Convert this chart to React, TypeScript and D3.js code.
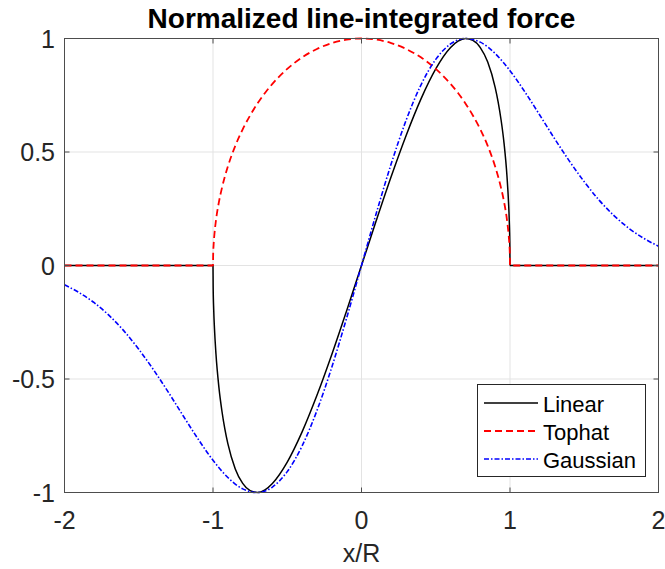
import React from 'react';
import * as d3 from 'd3';

// sample positions for the Linear / Tophat curves (dense near the edges at x = ±1)
const kernelX = [
  -2, -1.5, -1, -0.999, -0.995, -0.99, -0.98, -0.96, -0.94, -0.92, -0.9, -0.85, -0.8, -0.75, -0.7,
  -0.65, -0.6, -0.5, -0.4, -0.3, -0.2, -0.1, 0, 0.1, 0.2, 0.3, 0.4, 0.5, 0.6, 0.65, 0.7, 0.75,
  0.8, 0.85, 0.9, 0.92, 0.94, 0.96, 0.98, 0.99, 0.995, 0.999, 1, 1.5, 2,
];

const linearY = [
  0, 0, 0, -0.089, -0.199, -0.279, -0.39, -0.538, -0.641, -0.721, -0.785, -0.896, -0.96, -0.992, -1.0,
  -0.988, -0.96, -0.866, -0.733, -0.572, -0.392, -0.199, 0, 0.199, 0.392, 0.572, 0.733, 0.866, 0.96, 0.988, 1.0, 0.992,
  0.96, 0.896, 0.785, 0.721, 0.641, 0.538, 0.39, 0.279, 0.199, 0.089, 0, 0, 0,
];

const tophatY = [
  0, 0, 0, 0.045, 0.1, 0.141, 0.199, 0.28, 0.341, 0.392, 0.436, 0.527, 0.6, 0.661, 0.714,
  0.76, 0.8, 0.866, 0.917, 0.954, 0.98, 0.995, 1.0, 0.995, 0.98, 0.954, 0.917, 0.866, 0.8, 0.76, 0.714, 0.661,
  0.6, 0.527, 0.436, 0.392, 0.341, 0.28, 0.199, 0.141, 0.1, 0.045, 0, 0, 0,
];

const gaussX = [
  -2, -1.9, -1.8, -1.7, -1.6, -1.5, -1.4, -1.3, -1.2, -1.1, -1, -0.9, -0.8, -0.7, -0.6, -0.5, -0.4,
  -0.3, -0.2, -0.1, 0, 0.1, 0.2, 0.3, 0.4, 0.5, 0.6, 0.7, 0.8, 0.9, 1, 1.1, 1.2, 1.3, 1.4, 1.5,
  1.6, 1.7, 1.8, 1.9, 2,
];

const gaussY = [
  -0.085, -0.12, -0.164, -0.22, -0.288, -0.369, -0.46, -0.559, -0.663, -0.765, -0.858, -0.934, -0.984, -1.0, -0.976, -0.908, -0.795,
  -0.639, -0.448, -0.231, 0, 0.231, 0.448, 0.639, 0.795, 0.908, 0.976, 1.0, 0.984, 0.934, 0.858, 0.765, 0.663, 0.559, 0.46, 0.369,
  0.288, 0.22, 0.164, 0.12, 0.085,
];

const xTicks = [-2, -1, 0, 1, 2];
const yTicks = [-1, -0.5, 0, 0.5, 1];

const seriesNames = ['Linear', 'Tophat', 'Gaussian'];

const W = 665;
const H = 569;
const FONT = 'Liberation Sans, Arial, Helvetica, sans-serif';

export default function App() {
  const left = 64.5;
  const right = 658.5;
  const top = 38.5;
  const bottom = 492.5;

  const x = d3.scaleLinear().domain([-2, 2]).range([left, right]);
  const y = d3.scaleLinear().domain([-1, 1]).range([bottom, top]);

  const line = d3
    .line<[number, number]>()
    .x(d => x(d[0]))
    .y(d => y(d[1]))
    .curve(d3.curveMonotoneX);

  const styles = [
    { color: '#000000', width: 1.5, dash: 'none' },
    { color: '#ff0000', width: 1.8, dash: '7,4' },
    { color: '#0000ff', width: 1.6, dash: '5,2,1.5,2' },
  ];

  const series: [number, number][][] = [
    kernelX.map((v, i) => [v, linearY[i]] as [number, number]),
    kernelX.map((v, i) => [v, tophatY[i]] as [number, number]),
    gaussX.map((v, i) => [v, gaussY[i]] as [number, number]),
  ];

  const tickLen = 5;
  const axisColor = '#4d4d4d';

  // legend layout
  const lgX = 477.5;
  const lgY = 384.5;
  const lgW = 168;
  const lgH = 92;
  const rowY = [403, 431, 459];

  return (
    <svg
      width={W}
      height={H}
      style={{ position: 'absolute', left: 0, top: 0, background: '#fff' }}
      fontFamily={FONT}
    >
      <rect x={0} y={0} width={W} height={H} fill="#fff" />

      {/* grid */}
      {xTicks.map(t => (
        <line key={'gx' + t} x1={x(t)} x2={x(t)} y1={top} y2={bottom} stroke="#e3e3e3" strokeWidth={1} />
      ))}
      {yTicks.map(t => (
        <line key={'gy' + t} x1={left} x2={right} y1={y(t)} y2={y(t)} stroke="#e3e3e3" strokeWidth={1} />
      ))}

      {/* curves */}
      <defs>
        <clipPath id="plotclip">
          <rect x={left - 2} y={top - 2} width={right - left + 4} height={bottom - top + 4} />
        </clipPath>
      </defs>
      <g clipPath="url(#plotclip)">
        {series.map((s, i) => (
          <path
            key={seriesNames[i]}
            d={line(s) || ''}
            fill="none"
            stroke={styles[i].color}
            strokeWidth={styles[i].width}
            strokeDasharray={styles[i].dash}
          />
        ))}
      </g>

      {/* box and ticks */}
      <rect x={left} y={top} width={right - left} height={bottom - top} fill="none" stroke={axisColor} strokeWidth={1} />
      {xTicks.map(t => (
        <g key={'tx' + t}>
          <line x1={x(t)} x2={x(t)} y1={bottom} y2={bottom - tickLen} stroke={axisColor} />
          <line x1={x(t)} x2={x(t)} y1={top} y2={top + tickLen} stroke={axisColor} />
          <text x={x(t)} y={529} textAnchor="middle" fontSize={25} fill="#262626">
            {t}
          </text>
        </g>
      ))}
      {yTicks.map(t => (
        <g key={'ty' + t}>
          <line x1={left} x2={left + tickLen} y1={y(t)} y2={y(t)} stroke={axisColor} />
          <line x1={right} x2={right - tickLen} y1={y(t)} y2={y(t)} stroke={axisColor} />
          <text x={55} y={y(t) + 9} textAnchor="end" fontSize={25} fill="#262626">
            {t}
          </text>
        </g>
      ))}

      {/* labels */}
      <text x={(left + right) / 2} y={28} textAnchor="middle" fontSize={28} fontWeight="bold" fill="#000">
        Normalized line-integrated force
      </text>
      <text x={(left + right) / 2} y={562} textAnchor="middle" fontSize={25} fill="#262626">
        x/R
      </text>

      {/* legend */}
      <rect x={lgX} y={lgY} width={lgW} height={lgH} fill="#fff" stroke="#262626" strokeWidth={1} />
      {seriesNames.map((n, i) => (
        <g key={'lg' + n}>
          <line
            x1={484}
            x2={538}
            y1={rowY[i]}
            y2={rowY[i]}
            stroke={styles[i].color}
            strokeWidth={styles[i].width}
            strokeDasharray={styles[i].dash}
          />
          <text x={543} y={rowY[i] + 9} fontSize={22} fill="#000">
            {n}
          </text>
        </g>
      ))}
    </svg>
  );
}
